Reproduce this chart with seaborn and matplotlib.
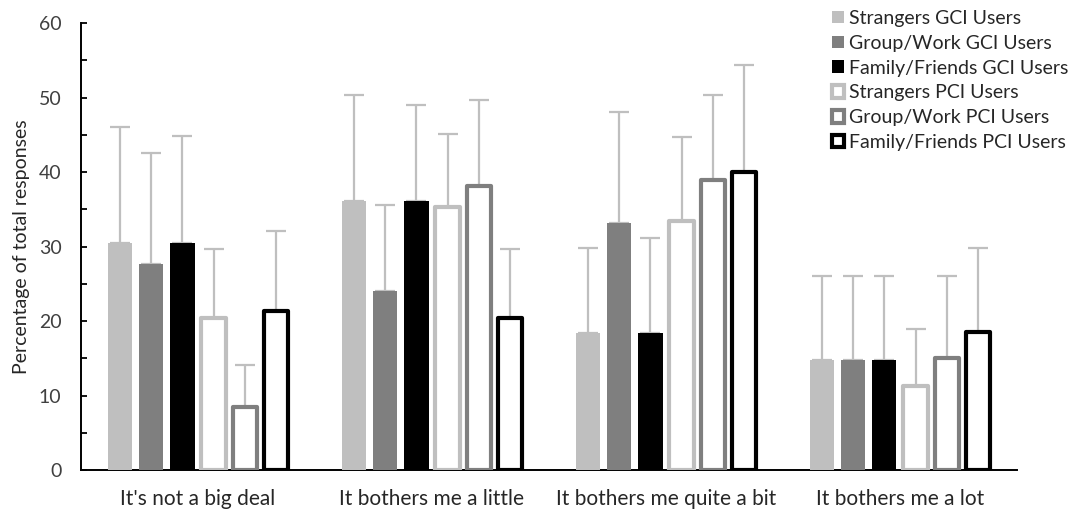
import matplotlib
matplotlib.use("Agg")
import matplotlib.pyplot as plt
from matplotlib.ticker import MultipleLocator
import pandas as pd
import seaborn as sns

categories = ["It's not a big deal", "It bothers me a little",
              "It bothers me quite a bit", "It bothers me a lot"]
series = ["Strangers GCI Users", "Group/Work GCI Users", "Family/Friends GCI Users",
          "Strangers PCI Users", "Group/Work PCI Users", "Family/Friends PCI Users"]

strangers_gci = [30.5, 36.1, 18.4, 14.8]
group_gci = [27.7, 24.0, 33.2, 14.8]
family_gci = [30.5, 36.1, 18.4, 14.8]
strangers_pci = [20.4, 35.3, 33.4, 11.3]
group_pci = [8.5, 38.1, 38.9, 15.0]
family_pci = [21.3, 20.4, 40.0, 18.5]

strangers_gci_err = [15.5, 14.2, 11.4, 11.2]
group_gci_err = [14.8, 11.6, 14.8, 11.2]
family_gci_err = [14.3, 12.9, 12.7, 11.2]
strangers_pci_err = [9.3, 9.8, 11.3, 7.6]
group_pci_err = [5.6, 11.6, 11.4, 11.0]
family_pci_err = [10.8, 9.3, 14.4, 11.3]

values = [strangers_gci, group_gci, family_gci, strangers_pci, group_pci, family_pci]
errors = [strangers_gci_err, group_gci_err, family_gci_err,
          strangers_pci_err, group_pci_err, family_pci_err]
colors = ["#BFBFBF", "#7F7F7F", "#000000", "#BFBFBF", "#7F7F7F", "#000000"]
hollow = [False, False, False, True, True, True]

rows = []
for s, vals, errs in zip(series, values, errors):
    for c, v, e in zip(categories, vals, errs):
        rows.append({"category": c, "series": s, "value": v, "err": e})
df = pd.DataFrame(rows)

sns.set_style("white")
plt.rcParams["font.family"] = ["Lato", "DejaVu Sans"]
text_color = "#404040"

fig = plt.figure(figsize=(10.77, 5.12), dpi=100)
ax = fig.add_axes([0.0752, 0.082, 0.869, 0.873])

sns.barplot(data=df, x="category", y="value", hue="series",
            order=categories, hue_order=series,
            palette=dict(zip(series, colors)),
            width=0.8, gap=0.22, errorbar=None, legend=False, ax=ax)

bar_containers = list(ax.containers)
for i, cont in enumerate(bar_containers):
    for bar in cont:
        if hollow[i]:
            bar.set_facecolor("white")
            bar.set_edgecolor(colors[i])
            bar.set_linewidth(3.0)
            bar.set_joinstyle("round")
        else:
            bar.set_facecolor(colors[i])
            bar.set_edgecolor("none")
            bar.set_linewidth(0)
        bar.set_zorder(3)
    xs = [b.get_x() + b.get_width() / 2 for b in cont]
    tops = [b.get_height() for b in cont]
    ax.errorbar(xs, tops, yerr=[[0] * len(errors[i]), errors[i]], fmt="none",
                ecolor="#BFBFBF", elinewidth=1.6, capsize=7, capthick=1.6, zorder=2)

ax.set_ylim(0, 60)
ax.set_xlim(-0.5, len(categories) - 0.5)
ax.yaxis.set_major_locator(MultipleLocator(10))
ax.yaxis.set_minor_locator(MultipleLocator(5))
ax.tick_params(axis="y", which="both", direction="in", left=True, length=4,
               width=1.3, color="black", labelsize=14, labelcolor=text_color, pad=14)
ax.tick_params(axis="x", bottom=False, labelsize=15, labelcolor="#262626", pad=10)
for side in ("top", "right"):
    ax.spines[side].set_visible(False)
for side in ("left", "bottom"):
    ax.spines[side].set_color("black")
    ax.spines[side].set_linewidth(1.4)
ax.set_xlabel("")
ax.set_ylabel("Percentage of total responses", fontsize=14, color="#262626", labelpad=6)

handles = [bar_containers[i][0] for i in range(len(series))]
fig.legend(handles, series, loc="upper right", bbox_to_anchor=(0.996, 0.988),
           frameon=False, fontsize=14, handlelength=0.62, handleheight=0.62,
           handletextpad=0.3, labelspacing=0.4, borderaxespad=0.0, borderpad=0.2,
           labelcolor="#262626")

fig.savefig("out.png", dpi=100, facecolor="white")
